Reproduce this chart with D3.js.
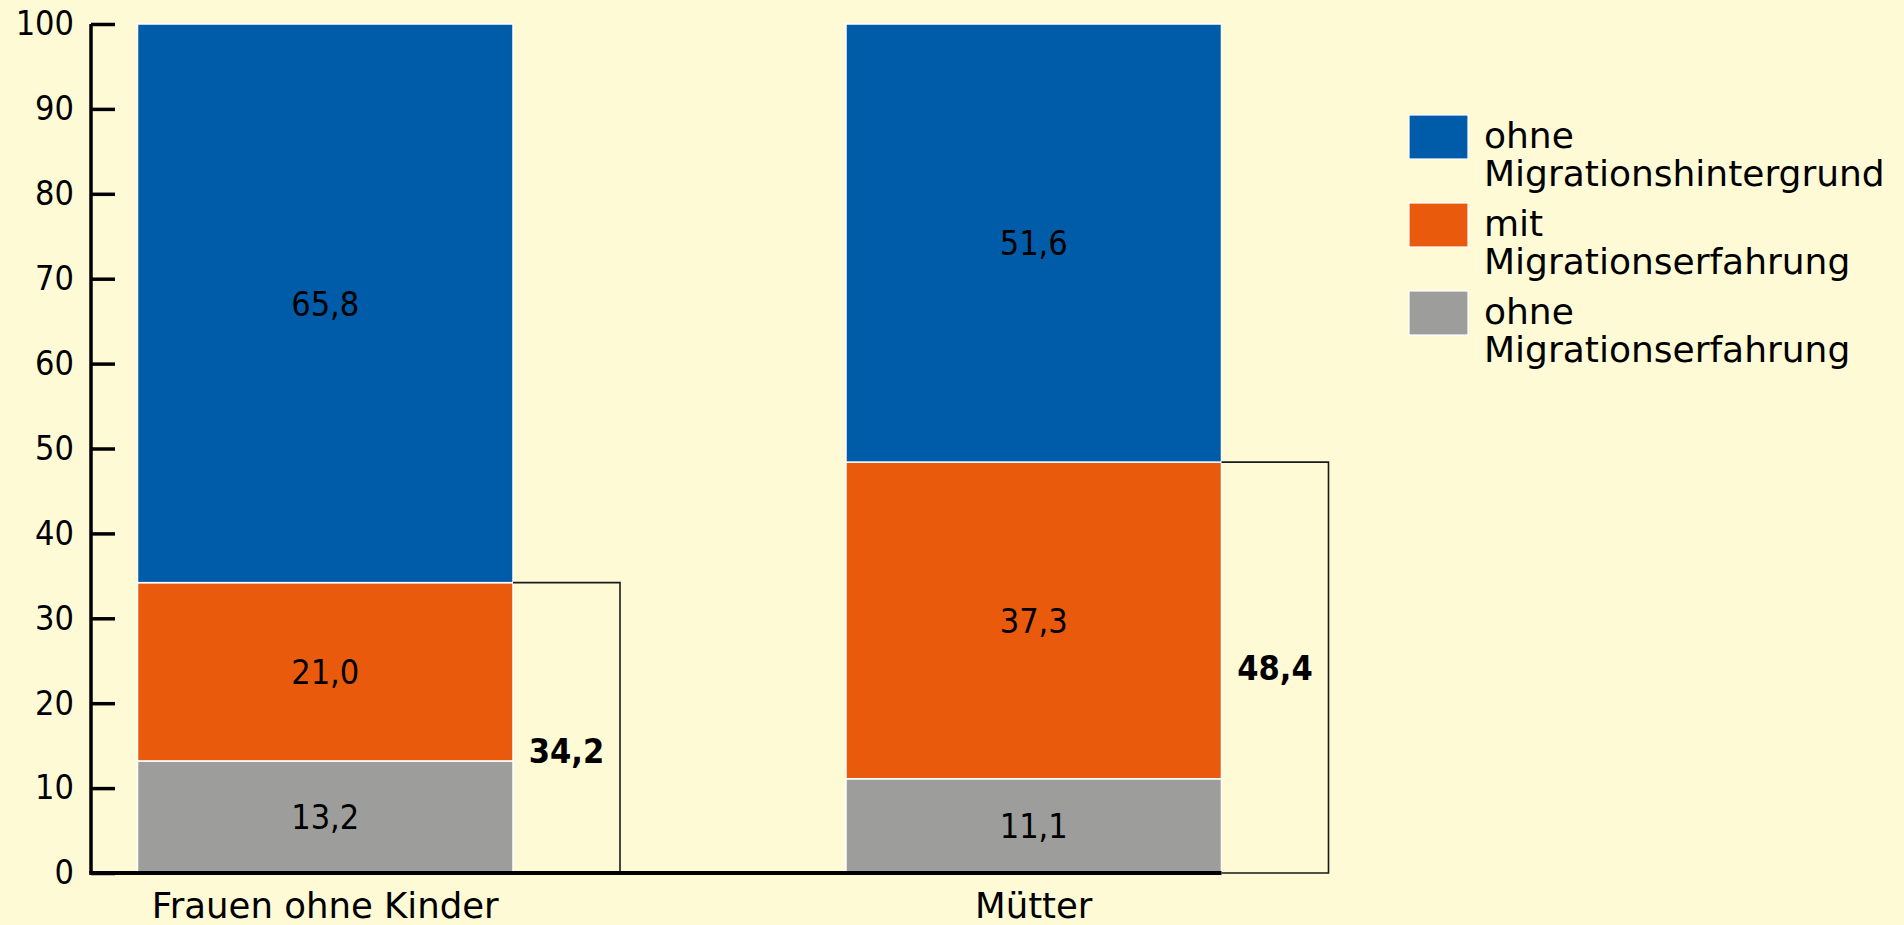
<!DOCTYPE html>
<html>
<head>
<meta charset="utf-8">
<script src="https://cdn.jsdelivr.net/npm/d3@7"></script>
<style>
  html, body { margin: 0; padding: 0; background: #fffad6; }
  svg { display: block; }
</style>
</head>
<body>
<svg id="chart"></svg>
<script>
'use strict';

// data
const categories = ['Frauen ohne Kinder', 'Mütter'];
const seriesNames = ['ohne Migrationserfahrung', 'mit Migrationserfahrung', 'ohne Migrationshintergrund'];
const ohneErfahrung = [13.2, 11.1];
const mitErfahrung = [21.0, 37.3];
const ohneHintergrund = [65.8, 51.6];
const bracketTotals = [34.2, 48.4];
const yTicks = [0, 10, 20, 30, 40, 50, 60, 70, 80, 90, 100];
const legendLabels = [
    ['ohne', 'Migrationshintergrund'],
    ['mit', 'Migrationserfahrung'],
    ['ohne', 'Migrationserfahrung']
];

const colors = ['#9d9d9c', '#e95a0c', '#005ca9'];
const legendColors = ['#005ca9', '#e95a0c', '#9d9d9c'];

const width = 1904, height = 925;
const svg = d3.select('#chart').attr('width', width).attr('height', height);
svg.append('rect').attr('width', width).attr('height', height).attr('fill', '#fffad6');

const textFont = '"DejaVu Sans", sans-serif';
const numFont = '"DejaVu Sans Condensed", "DejaVu Sans", sans-serif';

const axisX = 91;
const y = d3.scaleLinear().domain([0, 100]).range([873, 24]);
const x = d3.scaleBand().domain(categories)
    .range([axisX + 4, 1264]).paddingInner(0.47).paddingOuter(0.06);

// stack
const rows = categories.map((c, i) => ({
    cat: c,
    [seriesNames[0]]: ohneErfahrung[i],
    [seriesNames[1]]: mitErfahrung[i],
    [seriesNames[2]]: ohneHintergrund[i]
}));
const stacked = d3.stack().keys(seriesNames)(rows);

const layers = svg.append('g').selectAll('g')
    .data(stacked).join('g')
    .attr('fill', (d, i) => colors[i]);

layers.selectAll('rect')
    .data(d => d)
    .join('rect')
    .attr('x', d => x(d.data.cat))
    .attr('y', d => y(d[1]))
    .attr('width', x.bandwidth())
    .attr('height', d => y(d[0]) - y(d[1]))
    .attr('stroke', '#ffffff')
    .attr('stroke-width', 1.5);

layers.selectAll('text')
    .data(d => d)
    .join('text')
    .attr('x', d => x(d.data.cat) + x.bandwidth() / 2)
    .attr('y', d => y((d[0] + d[1]) / 2))
    .attr('dy', '0.36em')
    .attr('text-anchor', 'middle')
    .attr('fill', '#000')
    .style('font-family', numFont)
    .style('font-size', '34px')
    .text(d => d3.format('.1f')(d[1] - d[0]).replace('.', ','));

// brackets
const bracketOffset = 107;
const bracketLabelAt = [14.4, 24.2];
const brackets = svg.append('g');
categories.forEach((c, i) => {
    const x0 = x(c) + x.bandwidth();
    const x1 = x0 + bracketOffset;
    brackets.append('path')
        .attr('fill', 'none')
        .attr('stroke', '#1a1a1a')
        .attr('stroke-width', 1.6)
        .attr('d', `M ${x0} ${y(bracketTotals[i])} L ${x1} ${y(bracketTotals[i])} L ${x1} ${y(0)} L ${x0} ${y(0)}`);
    brackets.append('text')
        .attr('x', (x0 + x1) / 2)
        .attr('y', y(bracketLabelAt[i]))
        .attr('dy', '0.36em')
        .attr('text-anchor', 'middle')
        .style('font-family', numFont)
        .style('font-weight', 'bold')
        .style('font-size', '34px')
        .text(d3.format('.1f')(bracketTotals[i]).replace('.', ','));
});

// y axis
const yAxis = svg.append('g')
    .attr('transform', `translate(${axisX},0)`)
    .call(d3.axisLeft(y).tickValues(yTicks).tickSize(-24).tickSizeOuter(0).tickPadding(17));
yAxis.select('.domain').attr('stroke', '#000').attr('stroke-width', 3.5)
    .attr('d', `M0,${y(100)}V${y(0)}`);
yAxis.selectAll('.tick line').attr('stroke', '#000').attr('stroke-width', 3.5);
yAxis.selectAll('.tick text')
    .attr('fill', '#000')
    .style('font-family', numFont)
    .style('font-size', '34px');
yAxis.attr('font-family', null);

// baseline
const lastCat = categories[categories.length - 1];
svg.append('line')
    .attr('x1', axisX - 1.75)
    .attr('x2', x(lastCat) + x.bandwidth())
    .attr('y1', y(0)).attr('y2', y(0))
    .attr('stroke', '#000')
    .attr('stroke-width', 4);

// category labels
svg.append('g').selectAll('text')
    .data(categories).join('text')
    .attr('x', d => x(d) + x.bandwidth() / 2)
    .attr('y', 918)
    .attr('text-anchor', 'middle')
    .style('font-family', textFont)
    .style('font-size', '35.5px')
    .text(d => d);

// legend
const legend = svg.append('g').attr('transform', 'translate(1409,115)');
const items = legend.selectAll('g')
    .data(legendLabels).join('g')
    .attr('transform', (d, i) => `translate(0,${i * 88})`);
items.append('rect')
    .attr('width', 59).attr('height', 44)
    .attr('fill', (d, i) => legendColors[i])
    .attr('stroke', '#ffffff').attr('stroke-width', 1.2);
items.append('text')
    .style('font-family', textFont)
    .style('font-size', '36px')
    .selectAll('tspan')
    .data(d => d).join('tspan')
    .attr('x', 75)
    .attr('y', (d, j) => 33 + j * 38)
    .text(d => d);
</script>
</body>
</html>
